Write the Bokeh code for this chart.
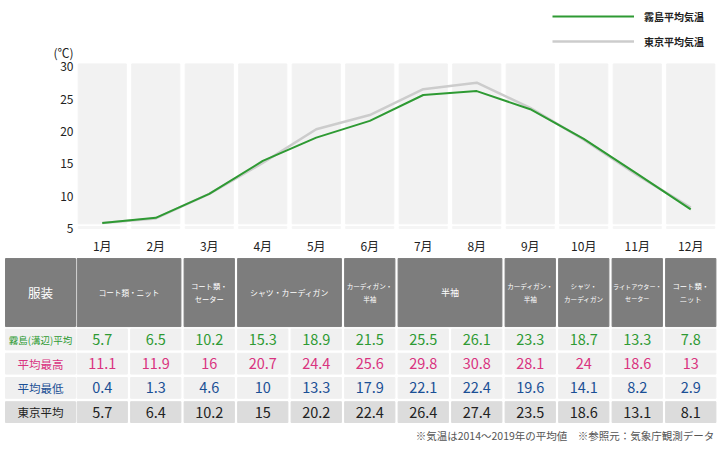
from bokeh.plotting import figure
from bokeh.models import Range1d, FactorRange, FixedTicker, Legend, LegendItem, ColumnDataSource
from bokeh.embed import file_html
from bokeh.resources import INLINE
from bokeh.core.properties import value

# ---------------- data ----------------
months = ["1月", "2月", "3月", "4月", "5月", "6月", "7月", "8月", "9月", "10月", "11月", "12月"]
kirishima = [5.7, 6.5, 10.2, 15.3, 18.9, 21.5, 25.5, 26.1, 23.3, 18.7, 13.3, 7.8]
max_temp = [11.1, 11.9, 16, 20.7, 24.4, 25.6, 29.8, 30.8, 28.1, 24, 18.6, 13]
min_temp = [0.4, 1.3, 4.6, 10, 13.3, 17.9, 22.1, 22.4, 19.6, 14.1, 8.2, 2.9]
tokyo = [5.7, 6.4, 10.2, 15, 20.2, 22.4, 26.4, 27.4, 23.5, 18.6, 13.1, 8.1]
clothing_labels = ["コート類・ニット", "コート類・\nセーター", "シャツ・カーディガン", "カーディガン・\n半袖",
                   "半袖", "カーディガン・\n半袖", "シャツ・\nカーディガン", "ライトアウター・\nセーター", "コート類・\nニット"]
clothing_spans = [2, 1, 2, 1, 2, 1, 1, 1, 1]
header_label = "服装"
row_labels = ["霧島(溝辺)平均", "平均最高", "平均最低", "東京平均"]
y_ticks = [5, 10, 15, 20, 25, 30]
unit_tick = 32
unit_label = "(℃)"
legend_labels = ["霧島平均気温", "東京平均気温"]
footnote = "※気温は2014～2019年の平均値　※参照元：気象庁観測データ"

# ---------------- styles ----------------
FONT = "Noto Sans CJK JP"
GREEN = "#2e9a33"
PINK = "#d9337f"
BLUE = "#1a4f95"
BLACK = "#222222"
LGRAY = "#cccccc"
HEAD = "#7d7d7d"
CELL = "#f0f0f0"
CELL2 = "#dcdcdc"
BAND = "#f2f2f2"
header_sizes = ["7.6px", "7.3px", "7.9px", "6.6px", "9px", "6.6px", "6.6px", "6.1px", "7.3px"]

W = 720

# ---------------- chart ----------------
p = figure(width=W, height=256, x_range=FactorRange(*months, range_padding=0),
           y_range=Range1d(4.69, 40.12), output_backend="svg", toolbar_location=None,
           min_border_left=75, min_border_right=3, min_border_top=0, min_border_bottom=25)
p.outline_line_color = None
p.grid.grid_line_color = None
for ax in (p.xaxis, p.yaxis):
    ax.axis_line_color = None
    ax.major_tick_line_color = None
    ax.minor_tick_line_color = None
    ax.major_tick_out = 0
    ax.major_tick_in = 0
    ax.minor_tick_out = 0
    ax.major_label_text_font = FONT
    ax.major_label_text_font_size = "12px"
    ax.major_label_text_color = BLACK
p.yaxis.ticker = FixedTicker(ticks=y_ticks + [unit_tick])
p.yaxis.major_label_overrides = {unit_tick: unit_label}
p.yaxis.major_label_standoff = 2
p.xaxis.major_label_standoff = 7

p.vbar(x=months, top=30.31, bottom=5.57, width=0.9, color=BAND)
p.vbar(x=months, top=5.15, bottom=4.85, width=0.9, color="#f5f5f5")

r_t = p.line(months, tokyo, color=LGRAY, line_width=2.5)
r_k = p.line(months, kirishima, color=GREEN, line_width=2)

legend = Legend(items=[LegendItem(label=legend_labels[0], renderers=[r_k]),
                       LegendItem(label=legend_labels[1], renderers=[r_t])],
                location=(477, 180), glyph_width=82, glyph_height=16, label_height=16,
                spacing=9, padding=1, margin=0, label_standoff=10,
                label_text_font=FONT, label_text_font_size="10px", label_text_font_style="bold",
                label_text_color=BLACK, background_fill_alpha=0, border_line_color=None)
p.add_layout(legend)

# ---------------- table ----------------
t = figure(width=W, height=194, x_range=Range1d(-1.402, 12.056), y_range=Range1d(4.587, -3.43),
           output_backend="svg", toolbar_location=None, min_border=0,
           x_axis_location=None, y_axis_location=None)
t.outline_line_color = None
t.grid.grid_line_color = None

HEAD_Y = -1.94
HEAD_H = 2.81
ROW_H = 0.86
LAB_X = -0.654
LAB_W = 1.308
COL_W = 0.94

# header
t.rect(x=[LAB_X], y=[HEAD_Y], width=LAB_W, height=HEAD_H, color=HEAD)
t.text(x=[LAB_X], y=[HEAD_Y], text=[header_label], text_align="center", text_baseline="middle",
       text_font=value(FONT), text_font_size="12.5px", text_color="white")
starts = [sum(clothing_spans[:k]) for k in range(len(clothing_spans))]
hx = [s + n / 2 for s, n in zip(starts, clothing_spans)]
hw = [n - (1 - COL_W) for n in clothing_spans]
t.rect(x=hx, y=HEAD_Y, width=hw, height=HEAD_H, color=HEAD)
src_h = ColumnDataSource(dict(x=hx, y=[HEAD_Y] * len(hx), text=clothing_labels, size=header_sizes))
t.text(x="x", y="y", text="text", source=src_h, text_align="center", text_baseline="middle",
       text_font=value(FONT), text_font_size="size", text_color="white", text_line_height=1.3)

rows = [kirishima, max_temp, min_temp, tokyo]
row_colors = [GREEN, PINK, BLUE, BLACK]
row_bg = [CELL, CELL, CELL, CELL2]
label_sizes = ["9.5px", "11.5px", "11.5px", "11.5px"]
for r, (vals, col, bg) in enumerate(zip(rows, row_colors, row_bg)):
    xs = [i + 0.5 for i in range(len(months))]
    t.rect(x=[LAB_X], y=[r], width=LAB_W, height=ROW_H, color=bg)
    t.text(x=[LAB_X], y=[r], text=[row_labels[r]], text_align="center", text_baseline="middle",
           text_font=value(FONT), text_font_size=label_sizes[r], text_color=col)
    t.rect(x=xs, y=r, width=COL_W, height=ROW_H, color=bg)
    t.text(x=xs, y=[r] * len(xs), text=[f"{v:g}" for v in vals], text_align="center",
           text_baseline="middle", text_font=value(FONT), text_font_size="14.5px", text_color=col)

t.text(x=[11.94], y=[3.97], text=[footnote], text_align="right", text_baseline="middle",
       text_font=value(FONT), text_font_size="10.5px", text_color="#555555")

open("out.html", "w").write(file_html([p, t], INLINE))
